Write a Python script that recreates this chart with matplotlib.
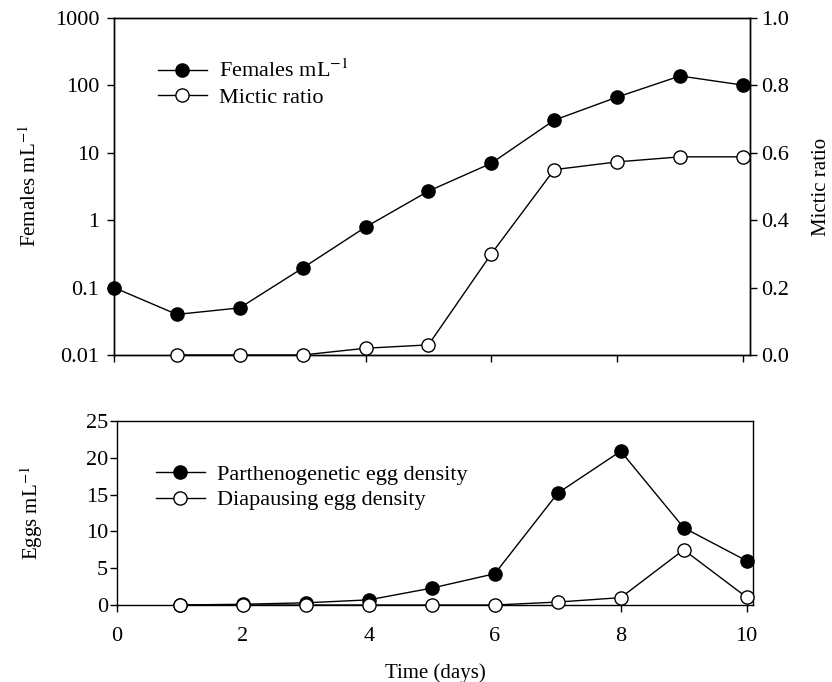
import matplotlib
matplotlib.use('Agg')
import matplotlib.pyplot as plt

plt.rcParams['font.family'] = ['Liberation Serif', 'DejaVu Serif']
plt.rcParams['mathtext.fontset'] = 'stix'
plt.rcParams['font.size'] = 16

# data
days = [0, 1, 2, 3, 4, 5, 6, 7, 8, 9, 10]
females = [0.1, 0.04, 0.05, 0.195, 0.79, 2.7, 7.0, 30.5, 67, 138, 101]
mictic_days = [1, 2, 3, 4, 5, 6, 7, 8, 9, 10]
mictic_ratio = [0.0, 0.0, 0.0, 0.02, 0.03, 0.30, 0.55, 0.573, 0.588, 0.588]
egg_days = [1, 2, 3, 4, 5, 6, 7, 8, 9, 10]
parth_eggs = [0.0, 0.1, 0.3, 0.7, 2.3, 4.25, 15.2, 20.9, 10.5, 6.0]
diap_eggs = [0.0, 0.0, 0.0, 0.0, 0.0, 0.0, 0.4, 1.0, 7.5, 1.05]

log_ticks = [0.01, 0.1, 1, 10, 100, 1000]
log_labels = ['0.01', '0.1', '1', '10', '100', '1000']
ratio_ticks = [0.0, 0.2, 0.4, 0.6, 0.8, 1.0]
egg_ticks = [0, 5, 10, 15, 20, 25]
day_ticks = [0, 2, 4, 6, 8, 10]

MS = 9.5
LW = 1.0
LABEL_SIZE = 15

fig = plt.figure(figsize=(8.32, 6.82), dpi=100)
ax1 = fig.add_axes([0.1370, 0.4795, 0.7650, 0.4941])
ax2 = ax1.twinx()
ax3 = fig.add_axes([0.1406, 0.1129, 0.7644, 0.2698])

# top panel: females (log, left) and mictic ratio (right)
l1, = ax1.plot(days, females, '-o', color='black', mfc='black', mec='black',
               ms=MS, lw=LW, label='Females mL$^{-1}$', clip_on=False, zorder=3)
l2, = ax2.plot(mictic_days, mictic_ratio, '-o', color='black', mfc='white', mec='black',
               ms=MS, lw=LW, mew=1.0, label='Mictic ratio', clip_on=False, zorder=3)
ax1.set_yscale('log')
ax1.set_ylim(0.01, 1000)
ax1.set_yticks(log_ticks)
ax1.set_yticklabels(log_labels)
ax1.yaxis.set_minor_locator(matplotlib.ticker.NullLocator())
ax1.set_xlim(0, 10.12)
ax1.set_xticks(day_ticks)
ax1.set_xticklabels([])
ax1.set_ylabel('Females mL$^{-1}$', fontsize=LABEL_SIZE)
ax1.yaxis.set_label_coords(-0.114, 0.5)
ax2.set_ylim(0, 1.0)
ax2.set_yticks(ratio_ticks)
ax2.set_yticklabels(['%.1f' % t for t in ratio_ticks])
ax2.set_ylabel('Mictic ratio', fontsize=LABEL_SIZE)
ax2.yaxis.set_label_coords(1.096, 0.5)
ax1.legend(handles=[l1, l2], loc='upper left', frameon=False, bbox_to_anchor=(0.055, 0.902),
           handlelength=2.2, handletextpad=0.55, labelspacing=0.23, borderaxespad=0)

# bottom panel: egg densities
l3, = ax3.plot(egg_days, parth_eggs, '-o', color='black', mfc='black', mec='black',
               ms=MS, lw=LW, label='Parthenogenetic egg density', clip_on=False, zorder=3)
l4, = ax3.plot(egg_days, diap_eggs, '-o', color='black', mfc='white', mec='black',
               ms=MS, lw=LW, mew=1.0, label='Diapausing egg density', clip_on=False, zorder=4)
ax3.set_ylim(0, 25)
ax3.set_yticks(egg_ticks)
ax3.set_xlim(0, 10.1)
ax3.set_xticks(day_ticks)
ax3.set_ylabel('Eggs mL$^{-1}$', fontsize=LABEL_SIZE)
ax3.yaxis.set_label_coords(-0.113, 0.5)
ax3.set_xlabel('Time (days)', fontsize=LABEL_SIZE)
ax3.xaxis.set_label_coords(0.5, -0.315)
ax3.legend(handles=[l3, l4], loc='upper left', frameon=False, bbox_to_anchor=(0.047, 0.814),
           handlelength=2.2, handletextpad=0.55, labelspacing=0.23, borderaxespad=0)

for ax in (ax1, ax2, ax3):
    ax.tick_params(direction='out', length=5, width=1)
    for sp in ax.spines.values():
        sp.set_linewidth(1.0)
ax1.tick_params(axis='y', pad=5.5)
ax2.tick_params(axis='y', pad=3)
ax3.tick_params(axis='y', pad=1.5)
ax3.tick_params(axis='x', pad=11)

fig.savefig('out.png', dpi=100)
